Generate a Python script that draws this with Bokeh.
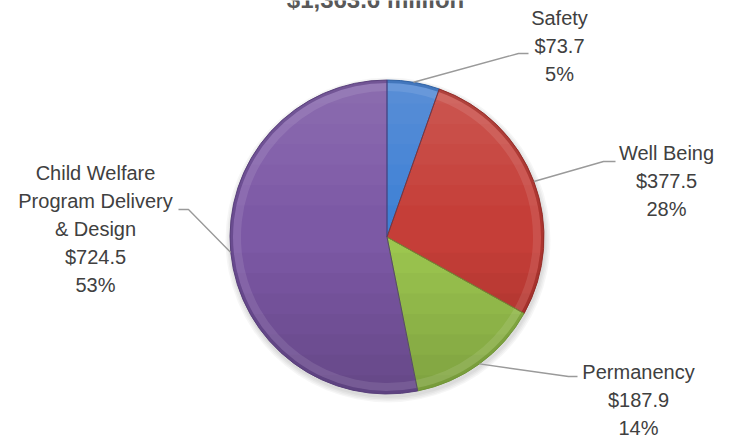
import math
from bokeh.plotting import figure
from bokeh.models import Range1d, ColumnDataSource
from bokeh.core.properties import value
from bokeh.embed import file_html
from bokeh.resources import INLINE

# ---- data ----
title_text = "$1,363.6 million"
categories = ["Safety", "Well Being", "Permanency", "Child Welfare\nProgram Delivery\n& Design"]
amounts = [73.7, 377.5, 187.9, 724.5]
colors = ["#3F80D4", "#C53E38", "#9CC64F", "#7C59A5"]
edge_colors = ["#2A5C9E", "#8E2A26", "#6E9236", "#553C78"]

# ---- layout constants (pixels, y measured from top) ----
W, H = 729, 438
CX, CY_TOP, R = 386.5, 236.5, 157
label_anchor = [(559, 17), (666, 152), (638, 371), (95, 172)]
elbows = [[(518, 53), (528, 53)], [(603, 161), (615, 161)],
          [(568, 376), (577, 376)], [(188, 209), (178, 209)]]
LINE_STEP = 28
FONT = "Liberation Sans"

def Y(ytop):
    return H - ytop

CY = Y(CY_TOP)
total = sum(amounts)

p = figure(width=W, height=H, x_range=Range1d(0, W), y_range=Range1d(0, H),
           output_backend="svg", toolbar_location=None, min_border=0)
p.axis.visible = False
p.grid.visible = False
p.outline_line_color = None
p.background_fill_color = "white"
p.border_fill_color = "white"

starts, ends, mids = [], [], []
cum = 0.0
for v in amounts:
    a0 = math.pi / 2 - 2 * math.pi * cum / total
    cum += v
    a1 = math.pi / 2 - 2 * math.pi * cum / total
    starts.append(a1)
    ends.append(a0)
    mids.append((a0 + a1) / 2)

# soft drop shadow
for k in range(4):
    p.circle(x=CX + 1, y=CY - 3, radius=R + 1 + k * 1.5, fill_color="#000000",
             fill_alpha=0.035, line_color=None)

src = ColumnDataSource(dict(start=starts, end=ends, color=colors, edge=edge_colors))
p.wedge(x=CX, y=CY, radius=R, start_angle="start", end_angle="end",
        direction="anticlock", fill_color="color", line_color=None, source=src)

# vertical shading: lighter top, darker bottom (circle segments)
def segment(y_cut, below):
    d = max(-1.0, min(1.0, (y_cut - CY) / R))
    a = math.asin(d)
    n = 60
    if below:
        angs = [math.pi - a + (2 * math.pi - (math.pi - 2 * a)) * i / n for i in range(n + 1)]
        angs = [math.pi - a + i * (math.pi + 2 * a) / n for i in range(n + 1)]
    else:
        angs = [a + i * (math.pi - 2 * a) / n for i in range(n + 1)]
    return [CX + R * math.cos(t) for t in angs], [CY + R * math.sin(t) for t in angs]

dx, dy = [], []
for k in range(7):
    sx, sy = segment(CY - R * (0.1 + 0.13 * k), True)
    dx.append(sx); dy.append(sy)
p.patches(xs=dx, ys=dy, fill_color="#000000", fill_alpha=0.025, line_color=None)
hx, hy = [], []
for k in range(6):
    sx, sy = segment(CY + R * (0.2 + 0.13 * k), False)
    hx.append(sx); hy.append(sy)
p.patches(xs=hx, ys=hy, fill_color="#ffffff", fill_alpha=0.025, line_color=None)

# bevel: highlight band inside the rim, darker outer rim
p.annular_wedge(x=CX, y=CY, inner_radius=R - 11, outer_radius=R - 3, start_angle="start",
                end_angle="end", direction="anticlock", fill_color="white",
                fill_alpha=0.10, line_color=None, source=src)
p.annular_wedge(x=CX, y=CY, inner_radius=R - 3, outer_radius=R, start_angle="start",
                end_angle="end", direction="anticlock", fill_color="edge",
                fill_alpha=0.45, line_color=None, source=src)
p.wedge(x=CX, y=CY, radius=R, start_angle="start", end_angle="end",
        direction="anticlock", fill_color=None, line_color="edge", line_width=1,
        line_alpha=0.9, source=src)

# leader lines
xs, ys = [], []
for m, el in zip(mids, elbows):
    ex = CX + R * math.cos(m)
    ey = CY + R * math.sin(m)
    xs.append([ex] + [e[0] for e in el])
    ys.append([ey] + [Y(e[1]) for e in el])
p.multi_line(xs=xs, ys=ys, line_color="#9A9A9A", line_width=1.4)

# labels
lx, ly, lt = [], [], []
for cat, v, (ax, ay) in zip(categories, amounts, label_anchor):
    lines = cat.split("\n") + [f"${v:,.1f}", f"{round(v / total * 100):.0f}%"]
    for i, t in enumerate(lines):
        lx.append(ax)
        ly.append(Y(ay + i * LINE_STEP))
        lt.append(t)
p.text(x=lx, y=ly, text=lt, text_font=value(FONT), text_font_size="20px",
       text_color="#404040", text_align="center", text_baseline="middle")

# title (cut off at the top as in the reference)
p.text(x=[375], y=[Y(-1)], text=[title_text], text_font=value(FONT),
       text_font_size="24px", text_font_style="bold", text_color="#595959",
       text_align="center", text_baseline="alphabetic")

open("out.html", "w").write(file_html(p, INLINE))
